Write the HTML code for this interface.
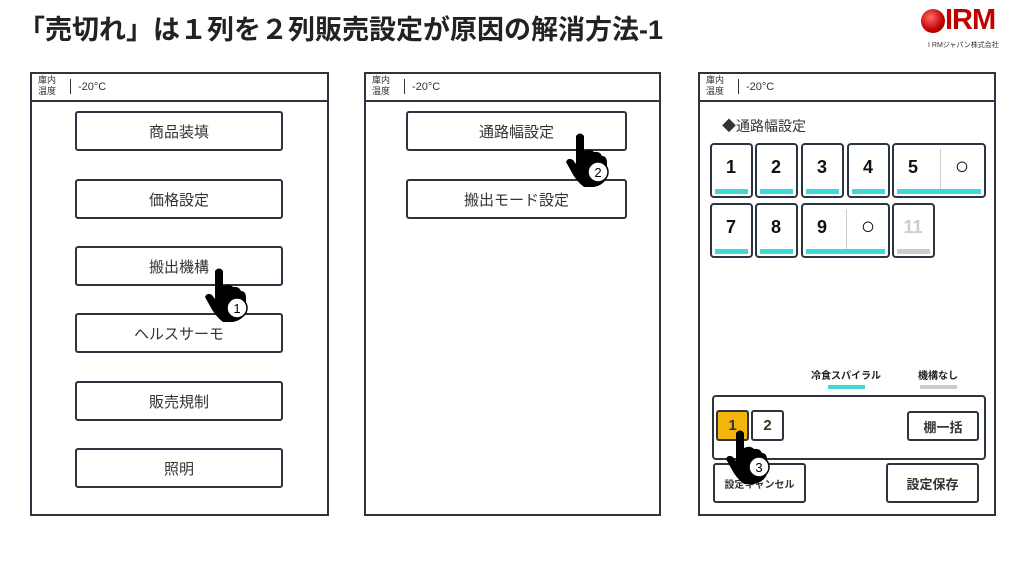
<!DOCTYPE html>
<html><head><meta charset="utf-8"><style>
*{margin:0;padding:0;box-sizing:border-box}
body{width:1024px;height:576px;background:#fff;position:relative;overflow:hidden;font-family:"Liberation Sans","Noto Sans CJK JP",sans-serif;color:#222}
.a{position:absolute}
.panel{position:absolute;border:2px solid #2c3440;top:72px;height:444px;background:#fff}
.hdr{position:absolute;left:0;right:0;top:0;height:28px;border-bottom:2px solid #2c3440;font-size:10px;color:#333}
.btn{position:absolute;border:2px solid #2c3440;border-radius:3px;display:flex;align-items:center;justify-content:center;font-size:15px;color:#333;background:#fff}
.tile{position:absolute;border:2px solid #2c3440;border-radius:4px;background:#fff;font-size:18px;font-weight:bold;color:#111}
.tile .n{position:absolute;top:12px;width:38px;text-align:center}
.tile .o{position:absolute;top:8px;width:38px;text-align:center;font-size:24px;font-weight:normal}
.bar{position:absolute;bottom:2px;height:5px;background:#3fd9dc;left:3px;right:3px}
</style></head><body>
<div class="a" style="left:18px;top:8px;font-size:27px;font-weight:bold;color:#222">「売切れ」は１列を２列販売設定が原因の解消方法-1</div>
<div class="a" style="left:921px;top:9px;width:24px;height:24px;border-radius:50%;background:radial-gradient(circle at 40% 35%,#ff6a6a,#c00000 60%,#800000)"></div>
<div class="a" style="left:945px;top:4px;font-size:29px;font-weight:bold;color:#c00000;letter-spacing:-1px">IRM</div>
<div class="a" style="left:928px;top:40px;font-size:7px;color:#333">I RMジャパン株式会社</div>

<div class="panel" style="left:30px;width:299px">
 <div class="hdr"><div class="a" style="left:6px;top:1px;line-height:11px;font-size:9px">庫内<br>温度</div><div class="a" style="left:38px;top:5px;width:1px;height:15px;background:#333"></div><div class="a" style="left:46px;top:7px;font-size:11px">-20°C</div></div>
</div>
<div class="btn" style="left:75px;top:111px;width:208px;height:40px">商品装填</div>
<div class="btn" style="left:75px;top:179px;width:208px;height:40px">価格設定</div>
<div class="btn" style="left:75px;top:246px;width:208px;height:40px">搬出機構</div>
<div class="btn" style="left:75px;top:313px;width:208px;height:40px">ヘルスサーモ</div>
<div class="btn" style="left:75px;top:381px;width:208px;height:40px">販売規制</div>
<div class="btn" style="left:75px;top:448px;width:208px;height:40px">照明</div>

<div class="panel" style="left:364px;width:297px">
 <div class="hdr"><div class="a" style="left:6px;top:1px;line-height:11px;font-size:9px">庫内<br>温度</div><div class="a" style="left:38px;top:5px;width:1px;height:15px;background:#333"></div><div class="a" style="left:46px;top:7px;font-size:11px">-20°C</div></div>
</div>
<div class="btn" style="left:406px;top:111px;width:221px;height:40px">通路幅設定</div>
<div class="btn" style="left:406px;top:179px;width:221px;height:40px">搬出モード設定</div>

<div class="panel" style="left:698px;width:298px">
 <div class="hdr"><div class="a" style="left:6px;top:1px;line-height:11px;font-size:9px">庫内<br>温度</div><div class="a" style="left:38px;top:5px;width:1px;height:15px;background:#333"></div><div class="a" style="left:46px;top:7px;font-size:11px">-20°C</div></div>
</div>
<div class="a" style="left:722px;top:116px;font-size:14px;color:#333">◆通路幅設定</div>
<div class="tile" style="left:710px;top:143px;width:43px;height:55px"><div class="n">1</div><div class="bar"></div></div>
<div class="tile" style="left:755px;top:143px;width:43px;height:55px"><div class="n">2</div><div class="bar"></div></div>
<div class="tile" style="left:801px;top:143px;width:43px;height:55px"><div class="n">3</div><div class="bar"></div></div>
<div class="tile" style="left:847px;top:143px;width:43px;height:55px"><div class="n">4</div><div class="bar"></div></div>
<div class="tile" style="left:892px;top:143px;width:94px;height:55px"><div class="n">5</div><div class="a" style="left:46px;top:4px;width:1px;height:40px;background:#ccc"></div><div class="o" style="left:49px">○</div><div class="bar"></div></div>
<div class="tile" style="left:710px;top:203px;width:43px;height:55px"><div class="n">7</div><div class="bar"></div></div>
<div class="tile" style="left:755px;top:203px;width:43px;height:55px"><div class="n">8</div><div class="bar"></div></div>
<div class="tile" style="left:801px;top:203px;width:89px;height:55px"><div class="n">9</div><div class="a" style="left:43px;top:4px;width:1px;height:40px;background:#ccc"></div><div class="o" style="left:46px">○</div><div class="bar"></div></div>
<div class="tile" style="left:892px;top:203px;width:43px;height:55px;color:#ccc"><div class="n">11</div><div class="bar" style="background:#ccc"></div></div>

<div class="a" style="left:806px;top:367px;font-size:10px;font-weight:bold;width:80px;text-align:center">冷食スパイラル</div>
<div class="a" style="left:828px;top:385px;width:37px;height:4px;background:#3fd9dc"></div>
<div class="a" style="left:908px;top:367px;font-size:10px;font-weight:bold;width:60px;text-align:center">機構なし</div>
<div class="a" style="left:920px;top:385px;width:37px;height:4px;background:#ccc"></div>

<div class="a" style="left:712px;top:395px;width:274px;height:65px;border:2px solid #2c3440;border-radius:4px"></div>
<div class="btn" style="left:716px;top:410px;width:33px;height:31px;background:#f5b50a;font-weight:bold">1</div>
<div class="btn" style="left:751px;top:410px;width:33px;height:31px;font-weight:bold">2</div>
<div class="btn" style="left:907px;top:411px;width:72px;height:30px;font-weight:bold;font-size:13px">棚一括</div>
<div class="btn" style="left:713px;top:463px;width:93px;height:40px;font-size:10px;font-weight:bold">設定キャンセル</div>
<div class="btn" style="left:886px;top:463px;width:93px;height:40px;font-size:13px;font-weight:bold">設定保存</div>

<svg class="a" style="left:0;top:0" width="1024" height="576">
<defs><g id="h"><path d="M-4,3 Q0,-2 4,3 L4,18 Q10,15 14,19 Q20,18 22,23 Q27,23 27,30 L27,44 Q24,52 14,54 L4,54 Q-4,48 -9,38 L-14,29 Q-12,24 -7,27 L-4,31 Z" fill="#000"/></g></defs>
<use href="#h" x="219" y="268"/><circle cx="237" cy="308" r="10" fill="#fff" stroke="#000" stroke-width="1.5"/><text x="237" y="313" font-size="13" text-anchor="middle" font-family="Liberation Sans">1</text>
<use href="#h" x="580" y="133"/><circle cx="598" cy="172" r="10" fill="#fff" stroke="#000" stroke-width="1.5"/><text x="598" y="177" font-size="13" text-anchor="middle" font-family="Liberation Sans">2</text>
<use href="#h" x="740" y="430"/><circle cx="759" cy="467" r="10" fill="#fff" stroke="#000" stroke-width="1.5"/><text x="759" y="472" font-size="13" text-anchor="middle" font-family="Liberation Sans">3</text>
</svg>
</body></html>
